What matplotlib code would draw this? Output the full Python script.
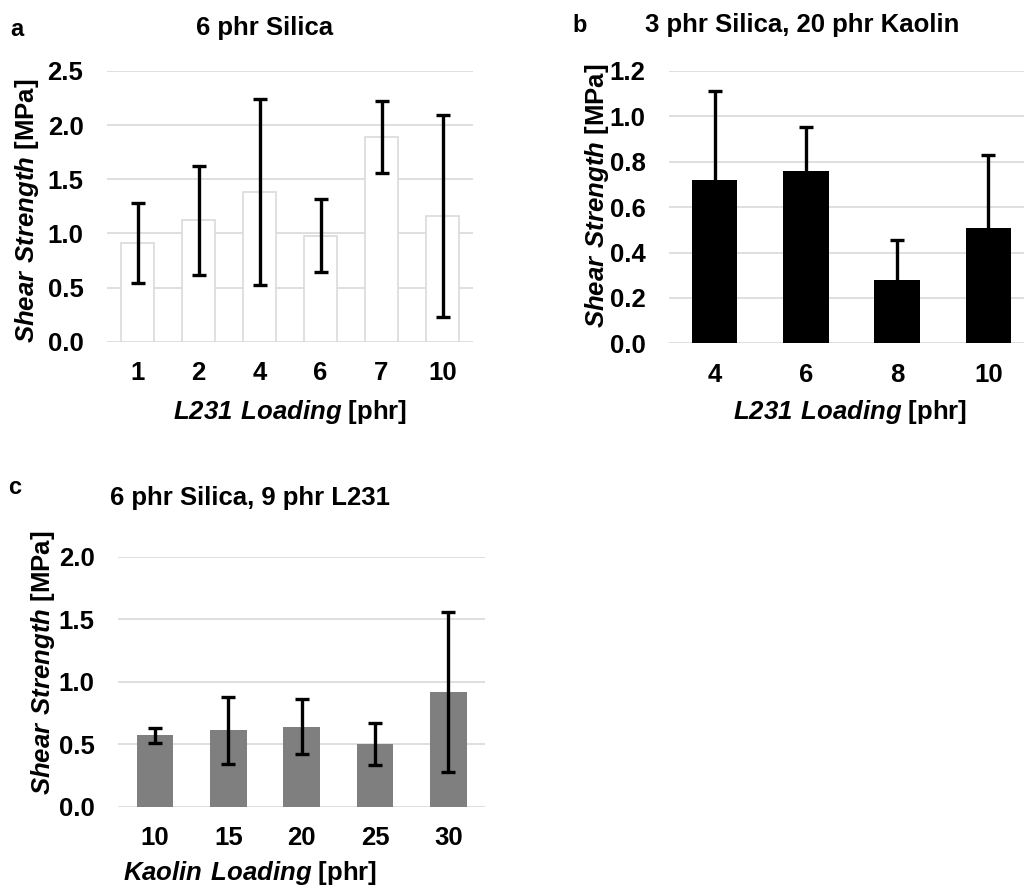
import matplotlib
matplotlib.use('Agg')
import matplotlib.pyplot as plt
import numpy as np

plt.rcParams['font.family'] = 'Liberation Sans'
plt.rcParams['font.weight'] = 'bold'
plt.rcParams['mathtext.fontset'] = 'custom'
plt.rcParams['mathtext.rm'] = 'Liberation Sans:bold'
plt.rcParams['mathtext.bf'] = 'Liberation Sans:bold'
plt.rcParams['mathtext.bfit'] = 'Liberation Sans:italic:bold'

# panel a: 6 phr Silica
a_labels = ['1', '2', '4', '6', '7', '10']
a_mean = [0.91, 1.12, 1.38, 0.98, 1.89, 1.16]
a_err = [0.37, 0.50, 0.86, 0.34, 0.33, 0.93]

# panel b: 3 phr Silica, 20 phr Kaolin
b_labels = ['4', '6', '8', '10']
b_mean = [0.72, 0.76, 0.28, 0.51]
b_err = [0.39, 0.195, 0.175, 0.32]

# panel c: 6 phr Silica, 9 phr L231
c_labels = ['10', '15', '20', '25', '30']
c_mean = [0.57, 0.61, 0.64, 0.50, 0.92]
c_err = [0.06, 0.27, 0.22, 0.17, 0.64]

W, H = 1024, 888
fig = plt.figure(figsize=(W / 100, H / 100), dpi=100)


def px_axes(left, top, right, bottom):
    return fig.add_axes([left / W, 1 - bottom / H, (right - left) / W, (bottom - top) / H])


def setup(ax, labels, ymax, ystep):
    ax.set_xlim(-0.5, len(labels) - 0.5)
    ax.set_ylim(0, ymax)
    ticks = np.arange(0, ymax + 1e-9, ystep)
    ax.set_yticks(ticks)
    ax.set_yticklabels(['%.1f' % v for v in ticks])
    ax.set_xticks(range(len(labels)))
    ax.set_xticklabels(labels)
    ax.tick_params(length=0, labelsize=18.5)
    ax.tick_params(axis='x', pad=14)
    ax.tick_params(axis='y', pad=17)
    for s in ax.spines.values():
        s.set_visible(False)
    ax.yaxis.grid(True, color='#d9d9d9', linewidth=1.2)
    ax.set_axisbelow(True)


def ftext(x, y, s, **kw):
    fig.text(x / W, 1 - y / H, s, ha='center', va='center', **kw)


ylab = r'$\mathbfit{Shear\ Strength}$ [MPa]'
fs = 18.5

# a
ax = px_axes(107, 71, 473, 341.7)
setup(ax, a_labels, 2.5, 0.5)
x = np.arange(len(a_labels))
ax.bar(x, a_mean, width=0.53, color='white', edgecolor='#dadada', linewidth=1.2)
ax.errorbar(x, a_mean, yerr=a_err, fmt='none', ecolor='black', elinewidth=2.4,
            capsize=5, capthick=2.4)
ftext(17, 30, 'a', fontsize=17)
ftext(265, 28, '6 phr Silica', fontsize=fs)
ftext(27, 211, ylab, fontsize=fs, rotation=90)
ftext(290, 412, r'$\mathbfit{L231\ Loading}$ [phr]', fontsize=fs)

# b (upper error bars only)
ax = px_axes(669, 71, 1034, 343.3)
setup(ax, b_labels, 1.2, 0.2)
x = np.arange(len(b_labels))
b_top = np.array(b_mean) + np.array(b_err)
ax.bar(x, b_mean, width=0.5, color='black')
ax.vlines(x, b_mean, b_top, color='black', linewidth=2.4)
ax.plot(x, b_top, linestyle='none', marker='_', markersize=10, markeredgewidth=2.4,
        color='black')
ftext(580, 25, 'b', fontsize=17)
ftext(802, 25, '3 phr Silica, 20 phr Kaolin', fontsize=fs)
ftext(597, 196, ylab, fontsize=fs, rotation=90)
ftext(850, 412, r'$\mathbfit{L231\ Loading}$ [phr]', fontsize=fs)

# c
ax = px_axes(118.3, 556.7, 485, 806.7)
setup(ax, c_labels, 2.0, 0.5)
x = np.arange(len(c_labels))
ax.bar(x, c_mean, width=0.5, color='#7f7f7f')
ax.errorbar(x, c_mean, yerr=c_err, fmt='none', ecolor='black', elinewidth=2.4,
            capsize=5, capthick=2.4)
ftext(15, 487, 'c', fontsize=17)
ftext(250, 498, '6 phr Silica, 9 phr L231', fontsize=fs)
ftext(43, 663, ylab, fontsize=fs, rotation=90)
ftext(250, 873, r'$\mathbfit{Kaolin\ Loading}$ [phr]', fontsize=fs)

fig.savefig('out.png', dpi=100)
